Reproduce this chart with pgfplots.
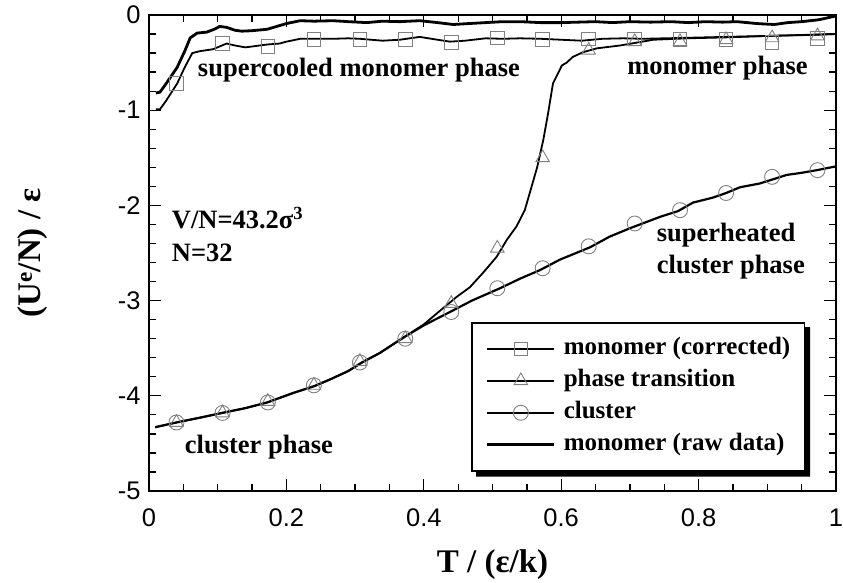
\documentclass[border=0pt]{standalone}
\usepackage{fontspec}
\setmainfont{Liberation Serif}
\setsansfont{Liberation Sans}
\usepackage{pgfplots}
\pgfplotsset{compat=1.18}

\newcommand\labfont{\fontsize{33}{36}\selectfont\bfseries}
\newcommand\annfont{\fontsize{26.5}{32}\selectfont\bfseries}

\begin{document}
\begin{tikzpicture}
\path[use as bounding box] (-149pt,-92pt) rectangle (694pt,491pt);
\begin{axis}[
  scale only axis,
  width=687pt, height=476pt,
  xmin=0, xmax=1, ymin=-5, ymax=0,
  xtick={0,0.2,0.4,0.6,0.8,1}, minor x tick num=3,
  ytick={-5,-4,-3,-2,-1,0}, minor y tick num=4,
  tick align=inside,
  major tick length=12pt, minor tick length=7pt,
  every tick/.style={black, line width=1.3pt},
  axis line style={line width=2pt},
  /pgf/number format/assume math mode=true,
  tick label style={font=\sffamily\fontsize{25.5}{26}\selectfont},
  yticklabel style={xshift=-5pt},
  xticklabel style={yshift=-14pt},
  xlabel={T / (ε/k)},
  ylabel={(U\textsuperscript{e}/N) / ε},
  label style={font=\labfont},
  xlabel style={at={(axis description cs:0.5,-0.155)}, anchor=center},
  ylabel style={at={(axis description cs:-0.169,0.5)}, anchor=center},
  legend image code/.code={%
    \draw[#1, mark repeat=2, mark phase=2]
      plot coordinates {(0pt,0pt) (33.5pt,0pt) (67pt,0pt)};},
  legend cell align=left,
  legend style={
    name=leg,
    at={(0.469,0.355)}, anchor=north west,
    draw=black, line width=1.5pt, fill=white,
    inner xsep=14pt, inner ysep=15pt,
    row sep=10pt, column sep=8pt,
    font=\fontsize{25}{26}\selectfont\bfseries,
    nodes={inner sep=0pt, text height=17pt, text depth=5pt},
  },
]

% monomer, raw data
\addplot[black, line width=2.8pt, forget plot] coordinates {
(0.010,-0.82) (0.016,-0.81) (0.025,-0.72) (0.041,-0.55) (0.052,-0.38)
(0.060,-0.24) (0.070,-0.19) (0.084,-0.18) (0.095,-0.15) (0.103,-0.12)
(0.113,-0.13) (0.125,-0.16) (0.135,-0.17) (0.150,-0.165) (0.172,-0.15)
(0.186,-0.12) (0.200,-0.09) (0.220,-0.06) (0.240,-0.065) (0.268,-0.06)
(0.290,-0.07) (0.317,-0.08) (0.340,-0.065) (0.365,-0.07) (0.394,-0.06)
(0.420,-0.08) (0.443,-0.10) (0.465,-0.09) (0.490,-0.08) (0.515,-0.07)
(0.540,-0.07) (0.570,-0.08) (0.600,-0.08) (0.625,-0.075) (0.650,-0.07)
(0.675,-0.08) (0.700,-0.07) (0.730,-0.075) (0.760,-0.07) (0.785,-0.08)
(0.810,-0.07) (0.835,-0.075) (0.856,-0.07) (0.885,-0.09) (0.910,-0.10)
(0.930,-0.08) (0.950,-0.07) (0.975,-0.05) (1.000,-0.01)
};

% monomer, corrected
\addplot[black, line width=1.8pt, forget plot] coordinates {
(0.010,-0.99) (0.016,-0.99) (0.025,-0.90) (0.041,-0.72) (0.052,-0.55)
(0.063,-0.40) (0.074,-0.38) (0.093,-0.36) (0.113,-0.30) (0.125,-0.32)
(0.140,-0.34) (0.151,-0.33) (0.172,-0.31) (0.190,-0.30) (0.200,-0.28)
(0.220,-0.25) (0.240,-0.25) (0.268,-0.25) (0.290,-0.245) (0.307,-0.25)
(0.340,-0.27) (0.365,-0.26) (0.394,-0.23) (0.420,-0.26) (0.438,-0.28)
(0.460,-0.27) (0.490,-0.245) (0.515,-0.25) (0.540,-0.245) (0.570,-0.25)
(0.600,-0.26) (0.630,-0.27) (0.660,-0.25) (0.690,-0.245) (0.720,-0.25)
(0.750,-0.245) (0.780,-0.24) (0.810,-0.235) (0.840,-0.23) (0.870,-0.225)
(0.900,-0.22) (0.930,-0.215) (0.960,-0.21) (1.000,-0.20)
};

% cluster
\addplot[black, line width=2.2pt, forget plot] coordinates {
(0.009,-4.33) (0.040,-4.28) (0.074,-4.23) (0.113,-4.17) (0.140,-4.13)
(0.172,-4.07) (0.210,-3.97) (0.240,-3.90) (0.263,-3.83) (0.290,-3.74)
(0.310,-3.65) (0.336,-3.55) (0.370,-3.39) (0.400,-3.26) (0.438,-3.12)
(0.470,-3.00) (0.511,-2.87) (0.540,-2.77) (0.569,-2.68) (0.598,-2.57)
(0.642,-2.44) (0.670,-2.33) (0.700,-2.24) (0.744,-2.12) (0.770,-2.06)
(0.792,-1.97) (0.820,-1.92) (0.840,-1.87) (0.860,-1.81) (0.889,-1.77)
(0.911,-1.72) (0.928,-1.68) (0.948,-1.66) (0.972,-1.63) (1.000,-1.59)
};

% phase transition
\addplot[black, line width=1.8pt, forget plot] coordinates {
(0.009,-4.33) (0.040,-4.28) (0.074,-4.23) (0.113,-4.17) (0.140,-4.13)
(0.172,-4.07) (0.210,-3.97) (0.240,-3.90) (0.263,-3.83) (0.290,-3.74)
(0.310,-3.65) (0.336,-3.55) (0.370,-3.39) (0.400,-3.25) (0.428,-3.08)
(0.448,-2.96) (0.467,-2.86) (0.486,-2.71) (0.506,-2.54) (0.521,-2.36)
(0.535,-2.22) (0.547,-2.05) (0.557,-1.80) (0.565,-1.60) (0.574,-1.31)
(0.581,-1.03) (0.588,-0.72) (0.601,-0.53) (0.608,-0.50) (0.617,-0.44)
(0.632,-0.39) (0.652,-0.35) (0.686,-0.32) (0.734,-0.26) (0.783,-0.245)
(0.840,-0.235) (0.900,-0.22) (0.950,-0.21) (1.000,-0.20)
};

% symbols
\addplot[only marks, mark=square, mark size=6.8pt,
  mark options={draw=gray, line width=0.9pt, fill=none}, forget plot] coordinates {
(0.040,-0.72) (0.107,-0.30) (0.173,-0.33) (0.240,-0.26) (0.307,-0.26)
(0.373,-0.26) (0.440,-0.29) (0.507,-0.24) (0.573,-0.26) (0.640,-0.25)
(0.707,-0.25) (0.773,-0.26) (0.840,-0.26) (0.907,-0.29) (0.973,-0.245)
};
\addplot[only marks, mark=triangle, mark size=7.8pt,
  mark options={draw=gray, line width=0.9pt, fill=none}, forget plot] coordinates {
(0.040,-4.28) (0.107,-4.18) (0.173,-4.06) (0.240,-3.89) (0.307,-3.64)
(0.373,-3.40) (0.440,-3.03) (0.507,-2.45) (0.573,-1.50) (0.640,-0.37)
(0.707,-0.28) (0.773,-0.28) (0.840,-0.26) (0.907,-0.24) (0.973,-0.22)
};
\addplot[only marks, mark=o, mark size=7.5pt,
  mark options={draw=gray, line width=0.9pt, fill=none}, forget plot] coordinates {
(0.040,-4.28) (0.107,-4.18) (0.173,-4.07) (0.240,-3.89) (0.307,-3.65)
(0.373,-3.40) (0.440,-3.12) (0.507,-2.87) (0.573,-2.66) (0.640,-2.43)
(0.707,-2.19) (0.773,-2.05) (0.840,-1.87) (0.907,-1.70) (0.973,-1.63)
};

\addlegendimage{black, line width=1.5pt, mark=square, mark size=6.8pt,
  mark options={draw=gray, line width=0.9pt, fill=none}}
\addlegendentry{monomer (corrected)}
\addlegendimage{black, line width=1.5pt, mark=triangle, mark size=7.8pt,
  mark options={draw=gray, line width=0.9pt, fill=none}}
\addlegendentry{phase transition}
\addlegendimage{black, line width=1.5pt, mark=o, mark size=7.5pt,
  mark options={draw=gray, line width=0.9pt, fill=none}}
\addlegendentry{cluster}
\addlegendimage{black, line width=2.8pt}
\addlegendentry{monomer (raw data)}

\node[anchor=west, font=\annfont, inner sep=0pt] at (axis cs:0.071,-0.58) {supercooled monomer phase};
\node[anchor=west, font=\annfont, inner sep=0pt] at (axis cs:0.696,-0.56) {monomer phase};
\node[anchor=west, font=\annfont, inner sep=0pt] at (axis cs:0.033,-2.13) {V/N=43.2σ\textsuperscript{3}};
\node[anchor=west, font=\annfont, inner sep=0pt] at (axis cs:0.033,-2.50) {N=32};
\node[anchor=west, font=\annfont, inner sep=0pt, align=left] at (axis cs:0.739,-2.48) {superheated\\cluster phase};
\node[anchor=west, font=\annfont, inner sep=0pt] at (axis cs:0.052,-4.54) {cluster phase};
\end{axis}
% offset shadow along the right and lower edges of the legend box
\fill[black] ([shift={(0pt,-5pt)}]leg.north east) -- ([shift={(5pt,-5pt)}]leg.north east)
  -- ([shift={(5pt,-5pt)}]leg.south east) -- ([shift={(5pt,-5pt)}]leg.south west)
  -- ([shift={(5pt,0pt)}]leg.south west) -- (leg.south east) -- cycle;
\end{tikzpicture}
\end{document}
